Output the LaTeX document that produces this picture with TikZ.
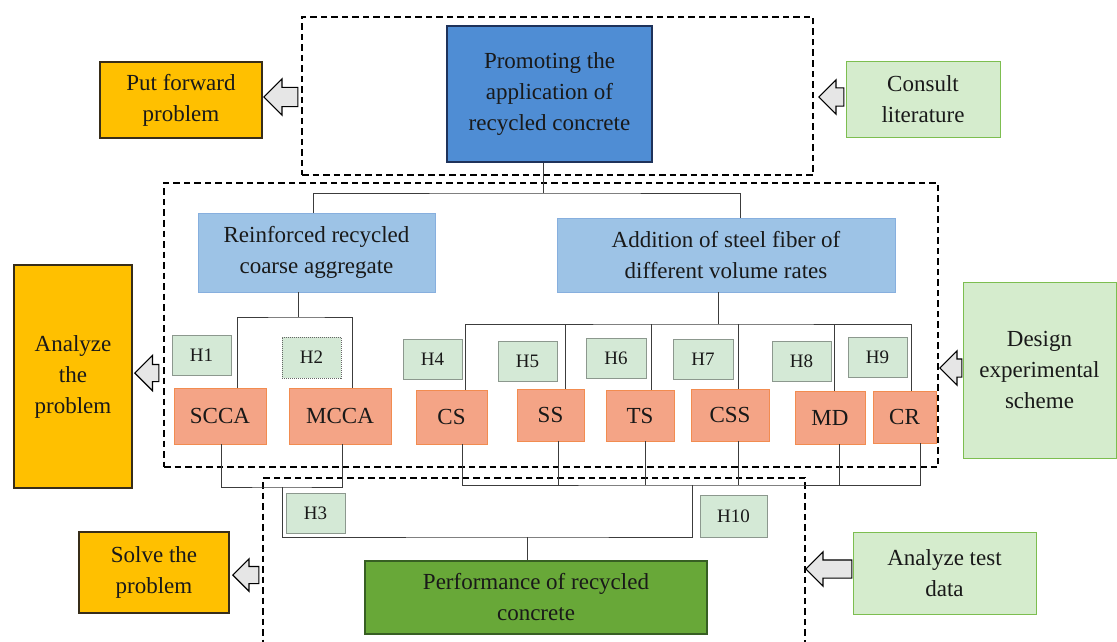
\documentclass[tikz,border=0pt]{standalone}
\usepackage{fontspec}
\setmainfont{Liberation Serif}
\usetikzlibrary{shapes.arrows,calc}
\definecolor{gold}{RGB}{255,192,0}
\definecolor{goldline}{RGB}{55,45,25}
\definecolor{bluefill}{RGB}{79,141,212}
\definecolor{blueline}{RGB}{30,50,90}
\definecolor{lbfill}{RGB}{157,195,230}
\definecolor{lbline}{RGB}{135,175,222}
\definecolor{salfill}{RGB}{244,164,134}
\definecolor{salline}{RGB}{242,140,80}
\definecolor{hfill}{RGB}{212,233,214}
\definecolor{hline}{RGB}{140,152,142}
\definecolor{lgfill}{RGB}{213,236,205}
\definecolor{lgline}{RGB}{125,190,80}
\definecolor{dgfill}{RGB}{104,168,56}
\definecolor{dgline}{RGB}{55,95,35}
\definecolor{conn}{RGB}{60,60,60}
\definecolor{arrfill}{RGB}{230,230,230}
\begin{document}
\begin{tikzpicture}[x=1pt,y=-1pt,
  sz/.style 2 args={minimum width=#1, minimum height=#2},
  box/.style={draw, inner sep=0pt, align=center, text=black!90, font=\fontsize{23}{31}\selectfont, line width=1.1pt},
  obox/.style={box, fill=gold, draw=goldline},
  bbox/.style={box, fill=bluefill, draw=blueline},
  lbbox/.style={box, fill=lbfill, draw=lbline, line width=0.9pt},
  sbox/.style={box, fill=salfill, draw=salline, line width=0.9pt},
  lgbox/.style={box, fill=lgfill, draw=lgline, line width=1pt},
  dgbox/.style={box, fill=dgfill, draw=dgline, line width=1.2pt},
  hbox/.style={draw=hline, fill=hfill, line width=0.9pt, inner sep=0pt, text=black!90, font=\fontsize{19}{22}\selectfont},
  grp/.style={draw=black, dash pattern=on 6.5pt off 4pt, line width=1.5pt, inner sep=0pt},
  link/.style={draw=conn, line width=0.9pt},
  barrow/.style={single arrow, draw=black, fill=arrfill, line width=1.2pt, shape border rotate=180, inner xsep=0pt, anchor=tip, single arrow tip angle=90}
]
\useasboundingbox (0,0) rectangle (1117,642);
\fill[white] (0,0) rectangle (1117,642);

% dashed groups
\node[grp, sz={511}{158}] (g1) at (557.5,96) {};
\node[grp, sz={774}{284}] (g2) at (551,325) {};
\node[grp, sz={542}{172}] (g3) at (534,564) {};

% side boxes
\node[obox, sz={162}{76}] (pfp) at (181,100) {Put forward\\problem};
\node[obox, sz={118}{223}] (atp) at (73,376.5) {Analyze\\the\\problem};
\node[obox, sz={150}{81}] (stp) at (154,572.5) {Solve the\\problem};
\node[lgbox, sz={154}{75}] (cl) at (923,99.5) {Consult\\literature};
\node[lgbox, sz={153}{176}] (des) at (1039.5,370) {Design\\experimental\\scheme};
\node[lgbox, sz={183}{82}] (atd) at (944.5,573) {Analyze test\\data};

% block arrows
\node[barrow, minimum height=34, inner ysep=9pt, single arrow head extend=8.5pt] (a1) at (263,97) {};
\node[barrow, minimum height=25, inner ysep=8.5pt, single arrow head extend=8pt] (a2) at (818,97) {};
\node[barrow, minimum height=24, inner ysep=8pt, single arrow head extend=9pt] (a3) at (134,373) {};
\node[barrow, minimum height=22, inner ysep=8.5pt, single arrow head extend=8pt] (a4) at (939,368) {};
\node[barrow, minimum height=26, inner ysep=8pt, single arrow head extend=7.5pt] (a5) at (232,575) {};
\node[barrow, minimum height=46, inner ysep=8.5pt, single arrow head extend=8pt] (a6) at (805,569) {};

% main boxes
\node[bbox, sz={205}{136}] (prom) at (549.5,94) {Promoting the\\application of\\recycled concrete};
\node[lbbox, sz={237}{79}] (reinf) at (316.5,252.5) {Reinforced recycled\\coarse aggregate};
\node[lbbox, sz={338}{74}] (addn) at (726,255) {Addition of steel fiber of\\different volume rates};
\node[dgbox, sz={342}{73}] (perf) at (536,597.5) {Performance of recycled\\concrete};

% H labels
\node[hbox, sz={59}{40}] (h1) at (201.5,355) {H1};
\node[hbox, sz={59}{41}, draw=black!60, dash pattern=on 1pt off 1pt] (h2) at (311.5,357.5) {H2};
\node[hbox, sz={59}{40}] (h4) at (432.5,359) {H4};
\node[hbox, sz={59}{40}] (h5) at (527.5,361) {H5};
\node[hbox, sz={60}{40}] (h6) at (616,358) {H6};
\node[hbox, sz={60}{40}] (h7) at (703,359) {H7};
\node[hbox, sz={59}{40}] (h8) at (801.5,361) {H8};
\node[hbox, sz={59}{40}] (h9) at (877.5,357) {H9};
\node[hbox, sz={59}{40}] (h3) at (315.5,513) {H3};
\node[hbox, sz={67}{42}] (h10) at (733.5,516) {H10};

% salmon boxes
\node[sbox, sz={92}{56}] (scca) at (220,416) {SCCA};
\node[sbox, sz={102}{56}] (mcca) at (340,416) {MCCA};
\node[sbox, sz={71}{54}] (cs) at (451.5,417) {CS};
\node[sbox, sz={67}{52}] (ss) at (550.5,415) {SS};
\node[sbox, sz={68}{51}] (ts) at (640,415.5) {TS};
\node[sbox, sz={78}{52}] (css) at (730,415) {CSS};
\node[sbox, sz={70}{53}] (md) at (830,417.5) {MD};
\node[sbox, sz={63}{52}] (cr) at (904.5,417) {CR};

% junctions
\coordinate (j1) at (543,193);
\coordinate (j2) at (298,317);
\coordinate (j3) at (718,324);
\coordinate (j4) at (282,487);
\coordinate (j5) at (692,485);
\coordinate (j6) at (527,537);

% top connectors
\draw[link] ([xshift=-6.5pt]prom.south) -- (j1);
\draw[link] ([xshift=-3.5pt]reinf.north) |- (j1) -| ([xshift=14pt]addn.north);
\draw[link] ([xshift=-18.5pt]reinf.south) -- (j2);
\draw[link] ([xshift=17pt]scca.north) |- (j2) -| ([xshift=12pt]mcca.north);
\draw[link] ([xshift=-8pt]addn.south) -- (j3);
\draw[link] ([xshift=13.5pt]cs.north) |- (j3) -| ([xshift=6.5pt]cr.north);
\coordinate (ssT) at ([xshift=14.5pt]ss.north);
\coordinate (tsT) at ([xshift=11pt]ts.north);
\coordinate (cssT) at ([xshift=8pt]css.north);
\coordinate (mdT) at ([xshift=4pt]md.north);
\draw[link] (ssT) -- (ssT |- j3);
\draw[link] (tsT) -- (tsT |- j3);
\draw[link] (cssT) -- (cssT |- j3);
\draw[link] (mdT) -- (mdT |- j3);

% bottom connectors
\draw[link] ([xshift=1pt]scca.south) |- (j4) -| ([xshift=2pt]mcca.south);
\draw[link] ([xshift=10.5pt]cs.south) |- (j5) -| ([xshift=15.5pt]cr.south);
\coordinate (ssB) at ([xshift=7.5pt]ss.south);
\coordinate (tsB) at ([xshift=5pt]ts.south);
\coordinate (cssB) at ([xshift=8pt]css.south);
\coordinate (mdB) at ([xshift=9pt]md.south);
\draw[link] (ssB) -- (ssB |- j5);
\draw[link] (tsB) -- (tsB |- j5);
\draw[link] (cssB) -- (cssB |- j5);
\draw[link] (mdB) -- (mdB |- j5);
\draw[link] (j4) |- (j6) -| (j5);
\draw[link] (j6) -- (j6 |- perf.north);
\end{tikzpicture}
\end{document}
